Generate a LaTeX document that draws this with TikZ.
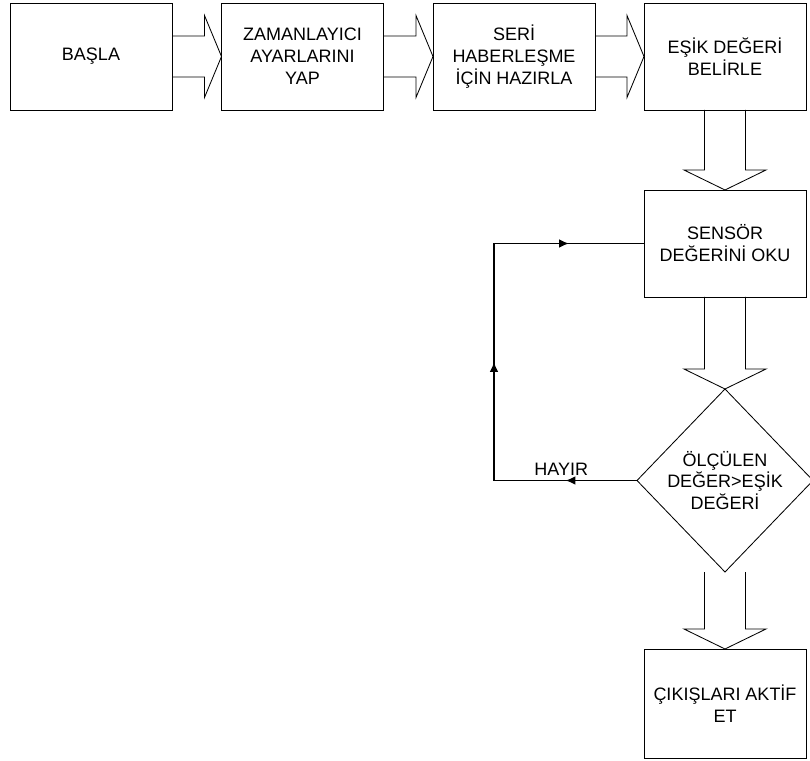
\documentclass[tikz,border=0pt]{standalone}
\usepackage{fontspec}
\setmainfont{Liberation Sans}
\usetikzlibrary{arrows.meta, positioning, shapes.geometric, calc, decorations.markings}

\tikzset{
    stepbox/.style={draw, line width=0.6pt, minimum width=4.05cm, minimum height=2.675cm,
        inner sep=2pt, outer sep=0pt, align=center, font=\fontsize{12.8}{15.6}\selectfont},
    decision/.style={draw, diamond, line width=0.6pt, minimum width=4.4cm, minimum height=4.575cm,
        inner sep=0pt, outer sep=0pt, align=center, font=\fontsize{12.8}{15.6}\selectfont},
    hblock/.style={line width=0.6pt, to path={
        ($(\tikztostart)+(0,0.5125)$) -- ($(\tikztotarget)+(-0.425,0.5125)$)
        -- ($(\tikztotarget)+(-0.425,1.025)$) -- (\tikztotarget)
        -- ($(\tikztotarget)+(-0.425,-1.025)$) -- ($(\tikztotarget)+(-0.425,-0.5125)$)
        -- ($(\tikztostart)+(0,-0.5125)$)}},
    vblock/.style={line width=0.6pt, to path={
        ($(\tikztostart)+(-0.5125,0)$) -- ($(\tikztotarget)+(-0.5125,0.5)$)
        -- ($(\tikztotarget)+(-1.025,0.5)$) -- (\tikztotarget)
        -- ($(\tikztotarget)+(1.025,0.5)$) -- ($(\tikztotarget)+(0.5125,0.5)$)
        -- ($(\tikztostart)+(0.5125,0)$)}},
    loopline/.style={line width=0.9pt, postaction={decorate}, decoration={markings,
        mark=at position 0.5 with {\arrow{Latex[length=7pt, width=6pt]}}}}
}

\begin{document}
\begin{tikzpicture}
    \useasboundingbox (0,0) rectangle (20.25,-19.025);

    % top row
    \node[stepbox] (basla) at (2.275,-1.4125) {BAŞLA};
    \node[stepbox] (zaman) at (7.5625,-1.4125) {ZAMANLAYICI\\AYARLARINI\\YAP};
    \node[stepbox] (seri) at (12.85,-1.4125) {SERİ\\HABERLEŞME\\İÇİN HAZIRLA};
    \node[stepbox] (esik) at (18.125,-1.4125) {EŞİK DEĞERİ\\BELİRLE};

    % right column
    \node[stepbox] (sensor) at (18.125,-6.0875) {SENSÖR\\DEĞERİNİ OKU};
    \node[decision] (cond) at (18.125,-12.0125) {ÖLÇÜLEN\\DEĞER>EŞİK\\DEĞERİ};
    \node[stepbox, minimum height=2.725cm] (cikis) at (18.125,-17.5875) {ÇIKIŞLARI AKTİF\\ET};

    \draw[hblock] (basla.east) to (zaman.west);
    \draw[hblock] (zaman.east) to (seri.west);
    \draw[hblock] (seri.east) to (esik.west);
    \draw[vblock] (esik.south) to (sensor.north);
    \draw[vblock] (sensor.south) to (cond.north);
    \draw[vblock] (cond.south) to (cikis.north);

    % loop back
    \coordinate (loopbot) at (12.35,-12.0125);
    \coordinate (looptop) at (loopbot |- sensor.west);
    \draw[loopline] (cond.west) -- node[above, pos=0.53, font=\fontsize{12.8}{15.6}\selectfont] {HAYIR} (loopbot);
    \draw[loopline] (loopbot) -- (looptop);
    \draw[loopline] (looptop) -- (sensor.west);
\end{tikzpicture}
\end{document}
